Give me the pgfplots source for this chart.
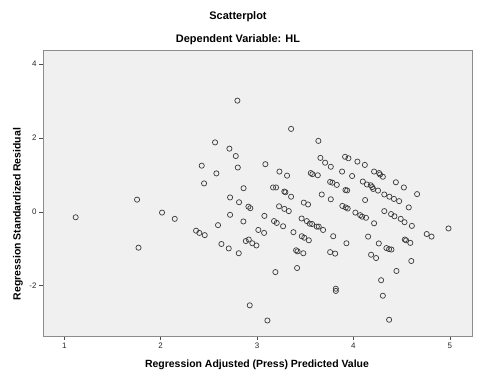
\documentclass[border=0pt]{standalone}
\usepackage{fontspec}
\setmainfont{Liberation Sans}
\usepackage{pgfplots}
\pgfplotsset{compat=1.18}
\definecolor{bgc}{HTML}{F0F0F0}
\definecolor{frm}{HTML}{8C8C8C}
\definecolor{mk}{HTML}{3A3A3A}
\begin{document}
\begin{tikzpicture}[x=1bp,y=1bp]
\path[use as bounding box] (0,0) rectangle (477,382);
\begin{axis}[
  at={(43bp,46bp)}, anchor=south west,
  scale only axis, width=429bp, height=286bp,
  xmin=0.779, xmax=5.23, ymin=-3.36, ymax=4.38,
  axis background/.style={fill=bgc},
  axis line style={draw=frm, line width=0.8bp},
  xtick={1,2,3,4,5}, ytick={-2,0,2,4},
  xtick pos=bottom, ytick pos=left,
  tick align=outside, major tick length=4bp,
  tick style={draw=black!70, line width=0.6bp},
  tick label style={font=\fontsize{8}{9}\selectfont, text=black!85},
  /pgf/number format/assume math mode=true,
  xticklabel style={yshift=1bp},
  yticklabel style={xshift=1bp},
  clip=false,
]
\addplot[only marks, mark=o, mark size=2.6bp, mark options={draw=mk, line width=0.7bp}] coordinates {
(1.118,-0.146) (1.755,0.33) (1.77,-0.97) (2.014,-0.02) (2.146,-0.19)
(2.796,3.01) (2.564,1.88) (2.713,1.71) (2.779,1.51) (2.426,1.25)
(2.578,1.04) (2.80,1.20) (3.086,1.29) (3.232,1.09) (2.45,0.77)
(2.86,0.64) (3.166,0.66) (3.197,0.66) (2.72,0.39) (2.813,0.26)
(2.91,0.14) (2.93,0.10) (2.72,-0.08) (3.076,-0.11)
(2.858,-0.26) (2.595,-0.36) (2.367,-0.51) (2.401,-0.57) (2.457,-0.63)
(3.013,-0.49) (3.073,-0.57) (3.176,-0.25) (3.204,-0.30) (2.63,-0.87)
(2.706,-0.99) (2.81,-1.12) (2.883,-0.79) (2.914,-0.75) (2.951,-0.85)
(2.993,-0.91) (3.19,-1.63) (2.924,-2.53) (3.107,-2.94) (3.353,2.245)
(3.636,1.92) (3.657,1.46) (3.706,1.33) (3.765,1.22) (3.913,1.49)
(3.948,1.45) (4.041,1.36) (4.118,1.27) (4.214,1.09) (4.266,1.05)
(4.276,1.01) (4.305,0.95) (3.311,0.98) (3.557,1.05) (3.574,1.02)
(3.63,0.99) (3.882,1.09) (3.986,0.97) (3.283,0.55) (3.294,0.53)
(3.353,0.41) (3.758,0.81) (3.782,0.79) (3.827,0.73) (3.917,0.59)
(3.934,0.58) (4.097,0.82) (4.14,0.74) (4.18,0.72) (4.195,0.67)
(4.205,0.62) (4.255,0.575) (4.44,0.80) (4.523,0.66) (4.66,0.48)
(3.671,0.47) (3.765,0.34) (4.121,0.32) (3.228,0.15) (3.283,0.08)
(3.329,0.02) (3.485,0.25) (3.529,0.20) (3.885,0.16) (3.92,0.12)
(3.94,0.09) (4.02,-0.02) (4.07,-0.09) (4.09,-0.13) (4.13,-0.16)
(3.462,-0.18) (3.516,-0.25) (3.547,-0.32) (3.571,-0.33) (3.62,-0.40)
(3.64,-0.40) (3.685,-0.49) (4.32,0.47) (4.373,0.41) (4.42,0.35)
(4.474,0.29) (4.574,0.12) (4.32,0.02) (4.39,-0.06) (4.425,-0.12)
(4.49,-0.19) (4.53,-0.28) (4.214,-0.31) (3.27,-0.39) (3.377,-0.55)
(3.464,-0.66) (3.49,-0.70) (3.537,-0.77) (3.79,-0.66) (3.927,-0.85)
(4.152,-0.67) (4.263,-0.855) (3.405,-1.04) (3.42,-1.07) (3.48,-1.12)
(3.758,-1.09) (3.81,-1.13) (4.183,-1.16) (4.235,-1.25) (3.415,-1.52)
(3.817,-2.08) (3.817,-2.14) (4.287,-1.85) (4.606,-0.38) (4.986,-0.45)
(4.76,-0.60) (4.81,-0.67) (4.533,-0.75) (4.546,-0.77) (4.59,-0.84)
(4.342,-0.98) (4.37,-1.01) (4.394,-1.02) (4.60,-1.33) (4.446,-1.60)
(4.305,-2.27) (4.37,-2.92)
};
\end{axis}
\node[font=\bfseries\fontsize{11}{13}\selectfont] at (238,365) {Scatterplot};
\node[font=\bfseries\fontsize{11}{13}\selectfont] at (238,342) {Dependent Variable: HL};
\node[font=\bfseries\fontsize{10.5}{12}\selectfont] at (257,17) {Regression Adjusted (Press) Predicted Value};
\node[font=\bfseries\fontsize{10.5}{12}\selectfont, rotate=90] at (18,168) {Regression Standardized Residual};
\end{tikzpicture}
\end{document}
